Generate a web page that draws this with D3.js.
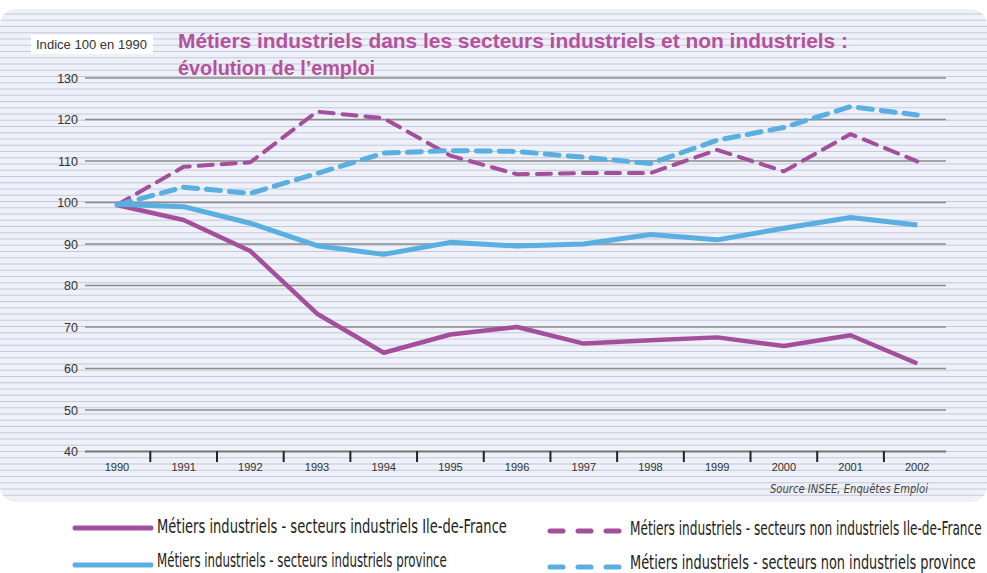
<!DOCTYPE html>
<html>
<head>
<meta charset="utf-8">
<style>
    body { margin: 0; background: #fff; }
    svg { display: block; }
    text { font-family: "Liberation Sans", Arial, sans-serif; }
</style>
</head>
<body>
<svg></svg>
<script src="https://cdnjs.cloudflare.com/ajax/libs/d3/7.8.5/d3.min.js"></script>
<script>

    // data (index 100 in 1990)
    let years = [1990, 1991, 1992, 1993, 1994, 1995, 1996, 1997, 1998, 1999, 2000, 2001, 2002];
    let indIdf = [99.4, 95.8, 88.3, 73.2, 63.8, 68.2, 70.0, 66.0, 66.8, 67.5, 65.4, 68.0, 61.2];
    let indProv = [99.6, 99.0, 95.0, 89.6, 87.5, 90.4, 89.5, 90.0, 92.3, 91.0, 93.8, 96.4, 94.6];
    let nonIndIdf = [99.4, 108.6, 109.7, 121.9, 120.3, 111.3, 106.8, 107.1, 107.1, 112.7, 107.5, 116.5, 109.9];
    let nonIndProv = [99.4, 103.7, 102.2, 107.0, 111.9, 112.5, 112.3, 110.9, 109.4, 115.0, 118.1, 123.1, 121.1];
    let yTicks = [40, 50, 60, 70, 80, 90, 100, 110, 120, 130];

    let seriesNames = [
        "Métiers industriels - secteurs industriels Ile-de-France",
        "Métiers industriels - secteurs industriels province",
        "Métiers industriels - secteurs non industriels Ile-de-France",
        "Métiers industriels - secteurs non industriels province"
    ];

    let purple = "#a34f9c",
        blue = "#5aafe1";

    let series = [
        {name: seriesNames[0], values: indIdf, color: purple, dash: null, width: 4.5},
        {name: seriesNames[1], values: indProv, color: blue, dash: null, width: 5},
        {name: seriesNames[2], values: nonIndIdf, color: purple, dash: "14,9", width: 4},
        {name: seriesNames[3], values: nonIndProv, color: blue, dash: "14,9", width: 5}
    ];

    let width = 987,
        height = 573;

    let svg = d3.select("svg")
        .attr("width", width)
        .attr("height", height);

    // panel background
    svg.append("defs").append("clipPath").attr("id", "panelClip")
        .append("rect")
        .attr("x", 0).attr("y", 9)
        .attr("width", 987).attr("height", 493)
        .attr("rx", 16);

    let panel = svg.append("g").attr("clip-path", "url(#panelClip)");
    panel.append("rect")
        .attr("x", 0).attr("y", 9)
        .attr("width", 987).attr("height", 493)
        .attr("fill", "#eef1f7");

    // thin lavender stripes over the whole panel
    let stripes = d3.range(14, 500, 6.25);
    panel.selectAll(".stripe")
        .data(stripes)
        .enter().append("line")
        .attr("x1", 0).attr("x2", 987)
        .attr("y1", d => d).attr("y2", d => d)
        .attr("stroke", "#c4c7de")
        .attr("stroke-width", 1);

    let x = d3.scaleBand()
        .domain(years)
        .range([83.6, 950.6]);

    let y = d3.scaleLinear()
        .domain([40, 130])
        .range([451.5, 78]);

    let px = d => x(d) + x.bandwidth() / 2;

    // major gridlines
    svg.append("g").selectAll("line")
        .data(yTicks)
        .enter().append("line")
        .attr("x1", 85).attr("x2", 946)
        .attr("y1", d => y(d)).attr("y2", d => y(d))
        .attr("stroke", d => d === 40 ? "#777" : "#8b8b8d")
        .attr("stroke-width", d => d === 40 ? 2 : 1.3);

    // y labels
    svg.append("g").selectAll("text")
        .data(yTicks)
        .enter().append("text")
        .attr("x", 78)
        .attr("y", d => y(d))
        .attr("dy", "0.36em")
        .attr("text-anchor", "end")
        .style("font-size", "12.5px")
        .attr("fill", "#333")
        .text(d => d);

    // x ticks between years
    svg.append("g").selectAll("line")
        .data(years.slice(1))
        .enter().append("line")
        .attr("x1", d => x(d)).attr("x2", d => x(d))
        .attr("y1", 451).attr("y2", 462)
        .attr("stroke", "#222")
        .attr("stroke-width", 2);

    svg.append("g").selectAll("text")
        .data(years)
        .enter().append("text")
        .attr("x", d => px(d))
        .attr("y", 467)
        .attr("dy", "0.36em")
        .attr("text-anchor", "middle")
        .style("font-size", "11px")
        .attr("fill", "#333")
        .text(d => d);

    // unit box
    svg.append("rect")
        .attr("x", 31).attr("y", 35)
        .attr("width", 122).attr("height", 19)
        .attr("fill", "#fff");
    svg.append("text")
        .attr("x", 36).attr("y", 45)
        .attr("dy", "0.36em")
        .style("font-size", "12px")
        .attr("fill", "#333")
        .attr("textLength", 111)
        .attr("lengthAdjust", "spacingAndGlyphs")
        .text("Indice 100 en 1990");

    // title
    let title = svg.append("g")
        .style("font-family", "'DejaVu Sans Condensed', 'DejaVu Sans', sans-serif")
        .style("font-weight", "bold")
        .style("font-size", "21px")
        .attr("fill", "#b5519d");
    title.append("text")
        .attr("x", 178).attr("y", 48)
        .attr("textLength", 670)
        .attr("lengthAdjust", "spacingAndGlyphs")
        .text("Métiers industriels dans les secteurs industriels et non industriels :");
    title.append("text")
        .attr("x", 178).attr("y", 75)
        .attr("textLength", 197)
        .attr("lengthAdjust", "spacingAndGlyphs")
        .text("évolution de l’emploi");

    // source
    svg.append("text")
        .attr("x", 928).attr("y", 488)
        .attr("dy", "0.36em")
        .attr("text-anchor", "end")
        .style("font-family", "'DejaVu Sans Condensed', sans-serif")
        .style("font-style", "italic")
        .style("font-size", "12.5px")
        .attr("fill", "#444")
        .attr("textLength", 158)
        .attr("lengthAdjust", "spacingAndGlyphs")
        .text("Source INSEE, Enquêtes Emploi");

    // lines
    let line = d3.line()
        .x((d, i) => px(years[i]))
        .y(d => y(d));

    svg.append("g").selectAll("path")
        .data(series)
        .enter().append("path")
        .attr("d", d => line(d.values))
        .attr("fill", "none")
        .attr("stroke", d => d.color)
        .attr("stroke-width", d => d.width)
        .attr("stroke-dasharray", d => d.dash)
        .attr("stroke-linecap", d => d.dash ? "round" : "butt")
        .attr("stroke-linejoin", "round");

    // legend below the panel
    let legendPos = [
        {x1: 75, x2: 151, y: 528, base: 533, tx: 157, len: 350},
        {x1: 75, x2: 151, y: 565, base: 567, tx: 157, len: 290},
        {x1: 550, x2: 620, y: 531, base: 535, tx: 630, len: 352},
        {x1: 550, x2: 620, y: 567, base: 569, tx: 630, len: 346}
    ];

    let legend = svg.append("g").selectAll("g")
        .data(series)
        .enter().append("g");

    legend.append("line")
        .attr("x1", (d, i) => legendPos[i].x1)
        .attr("x2", (d, i) => legendPos[i].x2)
        .attr("y1", (d, i) => legendPos[i].y)
        .attr("y2", (d, i) => legendPos[i].y)
        .attr("stroke", d => d.color)
        .attr("stroke-width", 5)
        .attr("stroke-linecap", "round")
        .attr("stroke-dasharray", d => d.dash ? "13,15" : null);

    // condensed look: measure the text, then squeeze it horizontally
    legend.append("text")
        .style("font-family", "'Liberation Sans Narrow', 'DejaVu Sans Condensed', sans-serif")
        .style("font-size", "19px")
        .attr("fill", "#222")
        .text(d => d.name)
        .attr("transform", function (d, i) {
            let p = legendPos[i];
            let sx = p.len / this.getComputedTextLength();
            return "translate(" + p.tx + "," + p.base + ") scale(" + sx + ",1)";
        });

</script>
</body>
</html>
